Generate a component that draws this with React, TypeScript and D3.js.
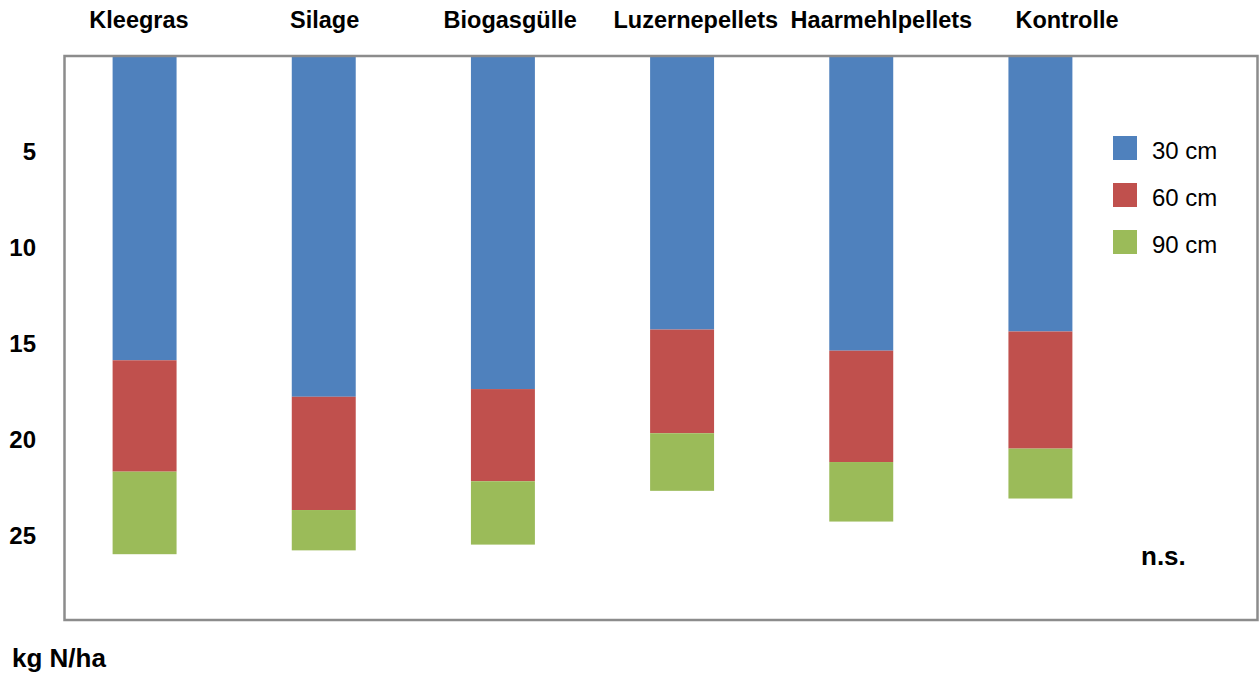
import * as d3 from "d3";

const categories = ["Kleegras", "Silage", "Biogasgülle", "Luzernepellets", "Haarmehlpellets", "Kontrolle"];
const depth30 = [15.9, 17.8, 17.4, 14.3, 15.4, 14.4];
const depth60 = [5.8, 5.9, 4.8, 5.4, 5.8, 6.1];
const depth90 = [4.3, 2.1, 3.3, 3.0, 3.1, 2.6];
const seriesNames = ["30 cm", "60 cm", "90 cm"];
const seriesColors = ["#4F81BD", "#C0504D", "#9BBB59"];
const yTicks = [5, 10, 15, 20, 25];

const W = 1260;
const H = 675;
const font = "'Liberation Sans', Arial, sans-serif";

export default function App() {
  // value axis runs downward: 0 at the top of the frame
  const y = d3.scaleLinear().domain([0, 29.5]).range([55, 621.4]);
  const x = d3.scaleBand<string>().domain(categories).range([55, 1130]);
  const labelX = d3.scalePoint<string>().domain(categories).range([139, 1067]);
  const barW = x.bandwidth() * 0.357;

  const rows = categories.map((c, i) => ({ cat: c, d30: depth30[i], d60: depth60[i], d90: depth90[i] }));
  const stack = d3.stack<any>().keys(["d30", "d60", "d90"])(rows);

  return (
    <svg width={W} height={H} style={{ position: "absolute", left: 0, top: 0, background: "#fff" }} fontFamily={font}>
      {stack.map((layer, li) =>
        layer.map((seg, i) => (
          <rect
            key={`${li}-${i}`}
            x={x(categories[i])! + (x.bandwidth() - barW) / 2}
            y={y(seg[0])}
            width={barW}
            height={y(seg[1]) - y(seg[0])}
            fill={seriesColors[li]}
          />
        ))
      )}

      <rect x={64.5} y={56} width={1193} height={564} fill="none" stroke="#8c8c8c" strokeWidth={2.5} />

      {categories.map((c) => (
        <text key={c} x={labelX(c)} y={28} textAnchor="middle" fontSize={23.5} fontWeight="bold" fill="#000">
          {c}
        </text>
      ))}

      {yTicks.map((t) => (
        <text key={t} x={36} y={y(t)} dy="0.36em" textAnchor="end" fontSize={24} fontWeight="bold" fill="#000">
          {t}
        </text>
      ))}

      {seriesNames.map((s, i) => (
        <g key={s} transform={`translate(1113,${136 + i * 47})`}>
          <rect width={24} height={24} fill={seriesColors[i]} />
          <text x={39} y={23} fontSize={24} fill="#000">{s}</text>
        </g>
      ))}

      <text x={1141} y={565} fontSize={26} fontWeight="bold" fill="#000">n.s.</text>
      <text x={12} y={667} fontSize={26} fontWeight="bold" fill="#000">kg N/ha</text>
    </svg>
  );
}
